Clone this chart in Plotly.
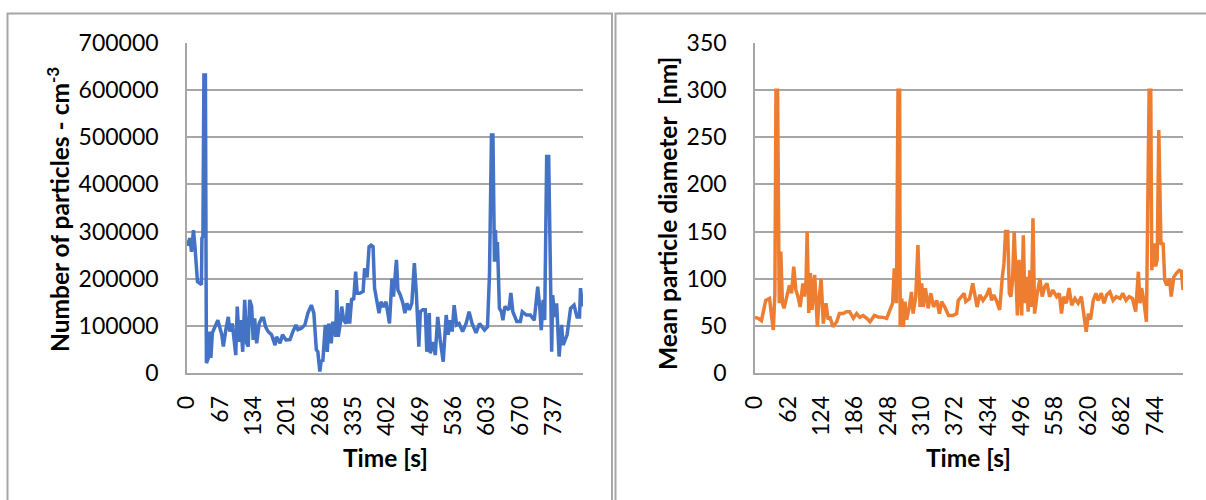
import plotly.graph_objects as go

# ---------------- data ----------------
left_time = [0, 6, 9, 13, 16, 21, 25, 29, 30, 32, 34, 37, 39, 43, 45, 48, 51, 55, 59, 62,
             70, 73, 78, 83, 86, 91, 94, 98, 101, 105, 108, 112, 116, 120, 123, 126, 130, 133, 136, 140,
             145, 150, 154, 158, 163, 170, 177, 180, 187, 192, 199, 207, 213, 219, 223, 230, 237, 243, 250, 255,
             260, 263, 267, 270, 273, 278, 282, 285, 290, 293, 299, 301, 304, 308, 311, 315, 320, 323, 327, 331,
             335, 339, 342, 347, 354, 357, 362, 366, 370, 374, 377, 382, 386, 390, 395, 400, 404, 407, 412, 415,
             421, 424, 429, 434, 438, 442, 447, 452, 457, 461, 466, 469, 474, 479, 482, 487, 489, 495, 499, 504,
             509, 515, 521, 525, 529, 533, 537, 542, 547, 554, 561, 567, 573, 581, 588, 598, 604, 608, 612, 615,
             618, 620, 622, 624, 628, 632, 635, 639, 647, 651, 655, 663, 670, 674, 682, 690, 698, 705, 709, 712,
             716, 719, 723, 727, 733, 735, 739, 743, 748, 753, 756, 764, 771, 778, 784, 789, 791, 795]
left_particles = [270000, 286000, 257000, 303000, 268000, 194000, 191000, 187000, 286000, 290000,
                  632000, 632000, 21000, 32000, 88000, 32000, 85000, 95000, 105000, 112000,
                  81000, 56000, 91000, 119000, 88000, 105000, 77000, 38000, 141000, 66000,
                  112000, 45000, 155000, 63000, 56000, 155000, 141000, 70000, 116000, 63000,
                  105000, 116000, 116000, 98000, 88000, 81000, 59000, 77000, 63000, 81000,
                  70000, 71000, 88000, 102000, 92000, 95000, 102000, 127000, 144000, 127000,
                  49000, 45000, 3000, 28000, 24000, 102000, 45000, 105000, 63000, 109000,
                  77000, 176000, 77000, 105000, 141000, 112000, 105000, 148000, 105000, 158000,
                  155000, 215000, 169000, 169000, 173000, 222000, 203000, 268000, 271000, 268000,
                  180000, 155000, 127000, 151000, 140000, 151000, 123000, 105000, 200000, 162000,
                  240000, 176000, 165000, 148000, 127000, 148000, 134000, 148000, 233000, 169000,
                  56000, 130000, 134000, 134000, 45000, 127000, 42000, 66000, 38000, 119000,
                  70000, 24000, 123000, 81000, 112000, 88000, 144000, 102000, 105000, 88000,
                  105000, 130000, 105000, 85000, 105000, 91000, 98000, 208000, 505000, 505000,
                  236000, 303000, 236000, 278000, 137000, 130000, 112000, 141000, 134000, 170000,
                  130000, 109000, 109000, 130000, 123000, 123000, 112000, 183000, 141000, 91000,
                  155000, 112000, 459000, 459000, 45000, 165000, 119000, 148000, 35000, 102000,
                  59000, 81000, 137000, 144000, 119000, 119000, 180000, 141000]

right_time = [0, 6, 12, 17, 20, 27, 31, 34, 37, 39, 42, 45, 48, 51, 54, 59, 64, 68, 72, 76,
              80, 84, 89, 92, 95, 97, 100, 103, 106, 111, 116, 119, 123, 127, 132, 136, 139, 145, 152, 157,
              164, 170, 176, 183, 189, 195, 201, 208, 214, 222, 229, 238, 245, 251, 256, 259, 263, 266, 269, 270,
              273, 276, 279, 282, 287, 291, 294, 299, 303, 307, 310, 313, 317, 322, 327, 332, 338, 343, 347, 353,
              360, 368, 375, 378, 384, 389, 392, 399, 405, 409, 413, 418, 424, 431, 436, 440, 444, 449, 455, 460,
              463, 466, 470, 473, 476, 479, 482, 484, 488, 491, 496, 499, 502, 505, 508, 511, 514, 517, 520, 525,
              530, 534, 539, 543, 548, 554, 561, 566, 570, 574, 579, 584, 589, 595, 601, 607, 612, 616, 620, 624,
              629, 634, 638, 644, 649, 654, 660, 666, 672, 679, 684, 690, 696, 702, 708, 713, 716, 719, 723, 728,
              733, 736, 738, 742, 745, 748, 751, 755, 759, 762, 766, 771, 774, 779, 784, 789, 793, 796]
right_diameter = [59, 58, 55.5, 70, 77, 79, 59, 45.6, 84.5, 300, 300, 74, 128.7, 74, 68.6, 81, 93, 84.5, 112.7, 88,
                  81, 70, 95, 81, 98.6, 150, 63.6, 106, 67, 104, 49, 77, 100, 52.4, 74, 56.6, 60, 49, 54.3, 63,
                  63, 65, 65, 58, 63, 59, 61, 58, 54.3, 61, 59.4, 59, 58, 67, 74, 111, 74, 300, 300, 49,
                  79, 49, 75.7, 56.6, 70, 86, 63, 81, 135.8, 70, 95, 70, 90, 68.6, 84.5, 70, 77, 63, 75.7, 70,
                  61, 61, 63, 77, 81, 84.5, 75.7, 79, 95, 84.5, 70, 82.8, 77, 82.8, 90, 77, 82.8, 77, 67, 102,
                  116, 150, 150, 84.5, 81, 98.6, 150, 123, 61, 120, 61, 146, 74, 102, 65, 109, 70, 164, 63, 84.5,
                  100, 81, 91.7, 95, 81, 88, 81, 84.5, 63, 81, 74, 90, 72, 79, 74, 81, 63, 43.8, 63, 56.6,
                  77, 84.5, 77, 84.5, 74, 82.8, 86, 77, 81, 79, 84.5, 77, 81, 79, 65, 107.4, 74, 90, 77, 54.3,
                  300, 300, 109, 137.5, 113, 120, 257.7, 136, 138, 98.6, 93, 100, 81, 102, 106, 109, 108, 88]

left_ticks = [0, 67, 134, 201, 268, 335, 402, 469, 536, 603, 670, 737]
right_ticks = [0, 62, 124, 186, 248, 310, 372, 434, 496, 558, 620, 682, 744]

left_ytitle = "Number of particles - cm<sup>-3</sup>"
right_ytitle = "Mean particle diameter  [nm]"
xtitle = "Time [s]"

# ---------------- figure ----------------
W, H = 1206, 500
FONT = "Lato"
GRID = "#A6A6A6"

def px(x):
    return x / W

def py(y):
    return 1 - y / H

fig = go.Figure()
fig.add_trace(go.Scatter(x=left_time, y=left_particles, mode="lines",
                         line=dict(color="#4472C4", width=3.5), xaxis="x", yaxis="y",
                         showlegend=False, hoverinfo="skip"))
fig.add_trace(go.Scatter(x=right_time, y=right_diameter, mode="lines",
                         line=dict(color="#ED7D31", width=3.5), xaxis="x2", yaxis="y2",
                         showlegend=False, hoverinfo="skip"))

tickfont = dict(family=FONT, size=23, color="#000000")

common_x = dict(showgrid=False, zeroline=False, showline=True, linecolor=GRID, linewidth=1.5,
                ticks="", tickangle=-90, tickfont=tickfont, ticklabelstandoff=12, automargin=False)
common_y = dict(showgrid=True, gridcolor=GRID, gridwidth=1.5, zeroline=False, showline=True,
                linecolor=GRID, linewidth=1.5, ticks="", tickfont=tickfont,
                ticklabelstandoff=22, tickformat="d", automargin=False)

fig.update_layout(
    template="none",
    width=W, height=H,
    margin=dict(l=0, r=0, t=0, b=0, pad=0, autoexpand=False),
    paper_bgcolor="white", plot_bgcolor="white",
    font=dict(family=FONT, color="#000000"),
    showlegend=False,
    xaxis=dict(domain=[px(187), px(583)], range=[0, 796], tickvals=left_ticks,
               ticktext=[str(t) for t in left_ticks], anchor="y", **common_x),
    yaxis=dict(domain=[py(373), py(43)], range=[0, 700000], dtick=100000, anchor="x", **common_y),
    xaxis2=dict(domain=[px(755), px(1183)], range=[0, 796], tickvals=right_ticks,
                ticktext=[str(t) for t in right_ticks], anchor="y2", **common_x),
    yaxis2=dict(domain=[py(373), py(43)], range=[0, 350], dtick=50, anchor="x2", **common_y),
)

title_font = dict(family=FONT, size=24.5, color="#000000")
fig.add_annotation(text="<b>" + left_ytitle + "</b>", x=px(58), y=py(210), xref="paper", yref="paper",
                   textangle=-90, showarrow=False, font=title_font, xanchor="center", yanchor="middle")
fig.add_annotation(text="<b>" + right_ytitle + "</b>", x=px(668), y=py(214), xref="paper", yref="paper",
                   textangle=-90, showarrow=False, font=title_font, xanchor="center", yanchor="middle")
fig.add_annotation(text="<b>" + xtitle + "</b>", x=px(385), y=py(457), xref="paper", yref="paper",
                   showarrow=False, font=title_font, xanchor="center", yanchor="middle")
fig.add_annotation(text="<b>" + xtitle + "</b>", x=px(969), y=py(457), xref="paper", yref="paper",
                   showarrow=False, font=title_font, xanchor="center", yanchor="middle")

# panel borders
fig.add_shape(type="rect", xref="paper", yref="paper", x0=px(7.5), x1=px(612), y0=-0.2, y1=py(13.5),
              line=dict(color="#A6A6A6", width=2), fillcolor="rgba(0,0,0,0)", layer="below")
fig.add_shape(type="rect", xref="paper", yref="paper", x0=px(615.5), x1=1.2, y0=-0.2, y1=py(13.5),
              line=dict(color="#A6A6A6", width=2), fillcolor="rgba(0,0,0,0)", layer="below")

fig.write_html("out.html", config={"displayModeBar": False},
               post_script="document.body.style.margin='0';document.body.style.overflow='hidden';")
